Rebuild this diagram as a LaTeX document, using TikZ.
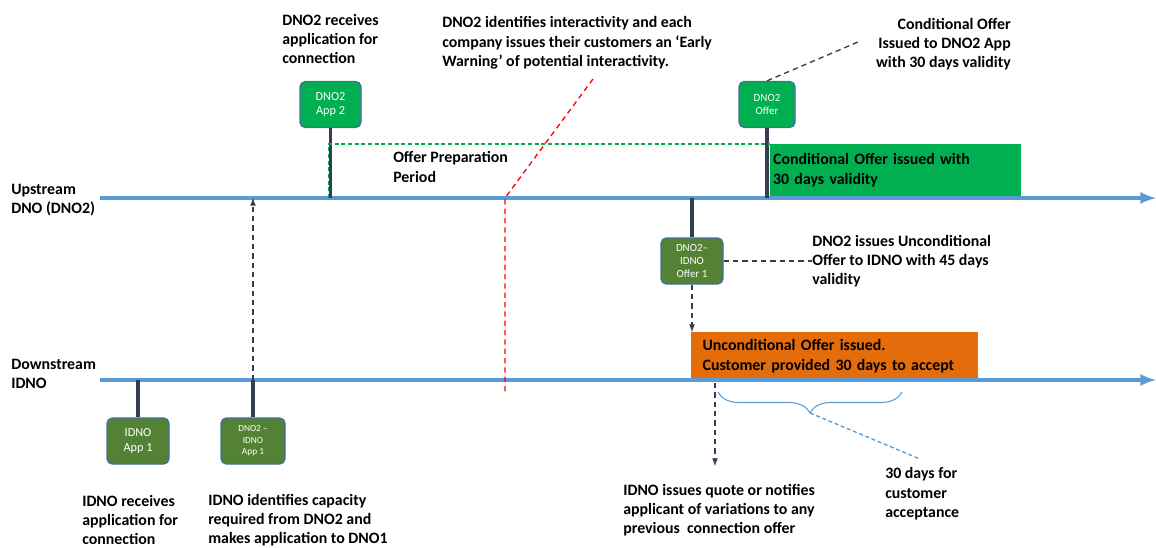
\documentclass[tikz,border=0pt]{standalone}
\usepackage{fontspec}
\setmainfont{Carlito}
\usetikzlibrary{positioning}
\usetikzlibrary{calc}
\usetikzlibrary{decorations.pathreplacing}
\tikzset{>=latex}
\definecolor{lineblue}{HTML}{5B9BD5}
\definecolor{stemdark}{HTML}{333F50}
\definecolor{offergreen}{HTML}{00B050}
\definecolor{idnogreen}{HTML}{548235}
\definecolor{boxedge}{HTML}{41719C}
\definecolor{unconorange}{HTML}{E46C0A}
\definecolor{warnred}{HTML}{FF0000}

\tikzset{
  timeline/.style={lineblue, line width=3pt, ->},
  stemline/.style={stemdark, line width=2.6pt},
  appbox/.style={draw=boxedge, line width=1pt, rounded corners=4pt, text=white,
    align=center, inner sep=1pt, minimum height=34.5pt},
  note/.style={font=\bfseries\fontsize{11.9}{14.5}\selectfont, align=left, inner sep=0pt},
  dasharrow/.style={stemdark, line width=1pt, dash pattern=on 4pt off 3pt},
  callout/.style={stemdark, line width=1pt, dash pattern=on 4pt off 3pt},
}

\begin{document}
\begin{tikzpicture}[x=0.75pt, y=-0.75pt]
  \useasboundingbox (0,0) rectangle (1156,547);

  % timelines
  \coordinate (up-w) at (100,198);
  \coordinate (up-e) at (1156,198);
  \coordinate (dn-w) at (100,380);
  \coordinate (dn-e) at (1156,380);
  \node[note, anchor=west] (up-lbl) at (11,200) {Upstream\\DNO (DNO2)};
  \node[note, anchor=west] (dn-lbl) at (11,374) {Downstream\\IDNO};

  % coloured periods
  \node[anchor=north west, fill=offergreen, minimum width=188.25pt, minimum height=39pt,
    inner xsep=3.75pt, note, text width=184pt] (condbox) at (770,144)
    {Conditional Offer issued with\\30 days validity};
  \node[anchor=north west, fill=unconorange, minimum width=214.5pt, minimum height=36pt,
    note, inner xsep=8.5pt, text width=198pt] (uncon) at (691,332)
    {Unconditional Offer issued.\\Customer provided 30 days to accept};

  \draw[timeline] (up-w) -- (up-e);
  \draw[timeline] (dn-w) -- (dn-e);

  % application and offer boxes
  \node[appbox, fill=offergreen, minimum width=45.75pt, font=\fontsize{9.2}{11}\selectfont] (app2) at (330.5,104.5) {DNO2\\App 2};
  \node[appbox, fill=offergreen, minimum width=42pt, font=\fontsize{8.2}{10}\selectfont] (offer) at (767,104.5) {DNO2\\Offer};
  \node[appbox, fill=idnogreen, minimum width=46.5pt, font=\fontsize{8.2}{9.5}\selectfont] (off1) at (692,261) {DNO2--\\IDNO\\Offer 1};
  \node[appbox, fill=idnogreen, minimum width=46.5pt, font=\fontsize{9.2}{11}\selectfont] (app1) at (138,441) {IDNO\\App 1};
  \node[appbox, fill=idnogreen, minimum width=48pt, font=\fontsize{7}{8.5}\selectfont] (ia1) at (253,441) {DNO2 --\\IDNO\\App 1};

  \draw[stemline] (app2) -- (app2 |- up-w);
  \draw[stemline] (offer) -- (offer |- up-w);
  \draw[stemline] (off1) -- (off1 |- up-w);
  \draw[stemline] (app1) -- (app1 |- dn-w);
  \draw[stemline] (ia1) -- (ia1 |- dn-w);

  % offer preparation period
  \coordinate (prep) at (328.5,144);
  \draw[offergreen, line width=0.9pt, dash pattern=on 3pt off 2pt] (prep |- up-w) -- (prep) -- (condbox.north west);
  \node[note, anchor=west] (prep-lbl) at (393,167) {Offer Preparation\\Period};

  % early warning
  \coordinate (warn-top) at (593,79);
  \coordinate (warn-foot) at (505,198);
  \coordinate (warn-low) at (505,393);
  \draw[warnred, line width=1pt, dash pattern=on 4pt off 3pt] (warn-top) -- (warn-foot) -- (warn-low);

  % texts
  \node[note, anchor=west] (recv2) at (282,39) {DNO2 receives\\application for\\connection};
  \node[note, anchor=west] (warn) at (442,43) {DNO2 identifies interactivity and each\\company issues their customers an `Early\\Warning' of potential interactivity.};
  \node[note, anchor=east, align=right] (cond-note) at (1011,44) {Conditional Offer\\Issued to DNO2 App\\with 30 days validity};
  \node[note, anchor=west] (unc-note) at (812,261) {DNO2 issues Unconditional\\Offer to IDNO with 45 days\\validity};
  \node[note, anchor=west] (quote) at (623,510) {IDNO issues quote or notifies\\applicant of variations to any\\previous~ connection offer};
  \node[note, anchor=west] (accept) at (885,494) {30 days for\\customer\\acceptance};
  \node[note, anchor=west] (recv1) at (82,520) {IDNO receives\\application for\\connection};
  \node[note, anchor=west] (capacity) at (208,520) {IDNO identifies capacity\\required from DNO2 and\\makes application to DNO1};

  % callouts and arrows
  \coordinate (cond-tip) at (858,42);
  \draw[callout] (offer.north) -- (cond-tip);
  \draw[callout] (off1.east) -- (unc-note.west |- off1.east);
  \draw[dasharrow, ->] (off1.south) -- (off1.south |- uncon.north);
  \draw[dasharrow, ->] (ia1 |- dn-w) -- (ia1 |- up-w);
  \coordinate (quote-top) at (715,383);
  \coordinate (quote-end) at (715,466);
  \draw[dasharrow, ->] (quote-top) -- (quote-end);

  % acceptance window
  \draw[lineblue, line width=0.8pt, decorate, decoration={brace, mirror, amplitude=15.75pt}] (718,392) -- (902,392);
  \coordinate (brace-tip) at (810,413);
  \coordinate (accept-tip) at (920,459);
  \draw[lineblue, line width=1pt, dash pattern=on 3pt off 2pt] (brace-tip) -- (accept-tip);
\end{tikzpicture}
\end{document}
